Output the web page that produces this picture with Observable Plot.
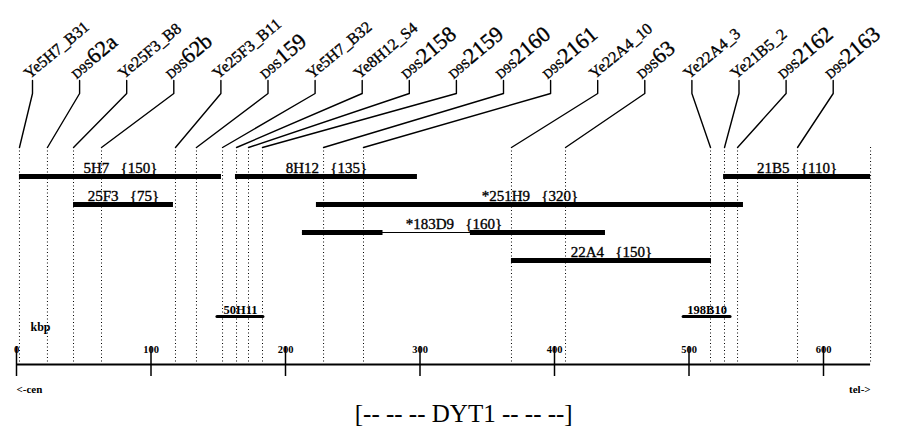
<!DOCTYPE html>
<html><head><meta charset="utf-8">
<script src="https://cdn.jsdelivr.net/npm/d3@7"></script>
<script src="https://cdn.jsdelivr.net/npm/@observablehq/plot@0.6"></script>
<style>body{margin:0;background:#fff} svg{display:block}</style>
</head><body><div id="chart"></div>
<script>
// ---------- data (kbp) ----------
const markerNames = ["Ye5H7_B31","D9S62a","Ye25F3_B8","D9S62b","Ye25F3_B11","D9S159","Ye5H7_B32","Ye8H12_S4","D9S2158","D9S2159","D9S2160","D9S2161","Ye22A4_10","D9S63","Ye22A4_3","Ye21B5_2","D9S2162","D9S2163"];
const markerPos = [2.2, 23.0, 42.4, 63.2, 118.2, 133.8, 153.2, 163.6, 172.5, 182.9, 228.3, 258.0, 368.0, 408.2, 516.0, 526.4, 536.1, 580.7];
const mapEnd = 635;

const cloneNames = ["5H7","8H12","21B5","25F3","*251H9","*183D9","22A4"];
const cloneSizes = [150, 135, 110, 75, 320, 160, 150];
const cloneStart = [2.2, 162.8, 525.7, 42.4, 223.0, 212.6, 368.0];
const cloneEnd   = [152.4, 298.1, 635.0, 116.7, 540.5, 437.9, 516.7];
const cloneTrack = [0, 0, 0, 1, 1, 2, 3];
// thin (non-overlapping) stretch inside *183D9
const gapCloneName = "*183D9";
const gapStart = 272.5, gapEnd = 337.5;

const smallNames = ["50H11","198B10"];
const smallStart = [149.4, 496.0];
const smallEnd   = [183.6, 530.9];
const smallTrack = [5, 5];

const tickValues = [0, 100, 200, 300, 400, 500, 600];
const dyt1Region = [250, 415];

// ---------- layout ----------
const W = 901, H = 426;
const trackY = t => 176 + 28 * t;
const labelBaseY = 80, bendY = 93, dotTopY = 147, axisY = 364;
const xs = d3.scaleLinear().domain([0, 600]).range([16, 823]);
const slotX = i => xs.invert(32 + 47.1 * i);

const markers = markerNames.map((n, i) => ({name: n, pos: markerPos[i], slot: slotX(i)}));
const leaders = markers.flatMap(m => [
  {name: m.name, x: m.slot, y: labelBaseY},
  {name: m.name, x: m.slot, y: bendY},
  {name: m.name, x: m.pos, y: dotTopY}
]);
const dotted = markerPos.concat([mapEnd]);

const clones = cloneNames.map((n, i) => ({name: n, size: cloneSizes[i], x1: cloneStart[i], x2: cloneEnd[i], y: trackY(cloneTrack[i])}));
const thick = clones.flatMap(c => c.name === gapCloneName
  ? [{...c, x2: gapStart}, {...c, x1: gapEnd}]
  : [c]);
const thin = clones.filter(c => c.name === gapCloneName);
const smalls = smallNames.map((n, i) => ({name: n, x1: smallStart[i], x2: smallEnd[i], y: trackY(smallTrack[i])}));

const serif = "Liberation Serif, Times New Roman, serif";
const ink = {fill: "#000", stroke: "#000", strokeWidth: 0.35};

const chart = Plot.plot({
  width: W, height: H,
  x: {domain: [0, 600], range: [16, 823], axis: null},
  y: {domain: [0, H], range: [0, H], axis: null},
  style: {background: "#fff", fontFamily: serif, color: "#000"},
  marks: [
    Plot.ruleX(dotted, {x: d => d, y1: dotTopY, y2: axisY, stroke: "#000", strokeWidth: 1, strokeDasharray: "1,2.5"}),
    Plot.line(leaders, {x: "x", y: "y", z: "name", stroke: "#000", strokeWidth: 1.4, curve: "linear"}),
    Plot.text(markers, {x: "slot", y: labelBaseY, text: "name", textAnchor: "start", lineAnchor: "bottom", rotate: -40, dx: -3, dy: -1, fontSize: 16, ...ink}),
    Plot.ruleY(thin, {x1: "x1", x2: "x2", y: "y", stroke: "#000", strokeWidth: 1.2}),
    Plot.ruleY(thick, {x1: "x1", x2: "x2", y: "y", stroke: "#000", strokeWidth: 5}),
    Plot.text(clones, {x: d => (d.x1 + d.x2) / 2, y: "y", text: d => d.name + "\u00a0\u00a0\u00a0{" + d.size + "}", lineAnchor: "bottom", dy: -4, fontSize: 15, ...ink}),
    Plot.ruleY(smalls, {x1: "x1", x2: "x2", y: "y", stroke: "#000", strokeWidth: 3, strokeLinecap: "round"}),
    Plot.text(smalls, {x: d => (d.x1 + d.x2) / 2, y: "y", text: "name", lineAnchor: "bottom", dy: -3, fontSize: 12.5, fontWeight: "bold", fill: "#000"}),
    Plot.ruleY([axisY], {x1: 0, x2: mapEnd, stroke: "#000", strokeWidth: 2}),
    Plot.ruleX(tickValues, {x: d => d, y1: axisY - 18, y2: axisY + 12, stroke: "#000", strokeWidth: 1.5}),
    Plot.text(tickValues, {x: d => d, y: axisY - 12, text: d => String(d), lineAnchor: "bottom", fontSize: 10.5, fontWeight: "bold", fill: "#000"}),
    Plot.text(["kbp"], {x: 0, y: axisY - 34, text: d => d, textAnchor: "start", dx: 14, lineAnchor: "bottom", fontSize: 12, fontWeight: "bold", fill: "#000"}),
    Plot.text(["<-cen"], {x: 0, y: axisY + 28, text: d => d, textAnchor: "start", lineAnchor: "bottom", fontSize: 11, fontWeight: "bold", fill: "#000"}),
    Plot.text(["tel->"], {x: mapEnd, y: axisY + 28, text: d => d, textAnchor: "end", lineAnchor: "bottom", fontSize: 11, fontWeight: "bold", fill: "#000"}),
    Plot.text(["[-- -- -- DYT1 -- -- --]"], {x: (dyt1Region[0] + dyt1Region[1]) / 2, y: H - 5, text: d => d, lineAnchor: "bottom", fontSize: 25, fill: "#000"})
  ]
});

// D9S labels: small prefix, large number
d3.select(chart).selectAll("text").each(function() {
  const tr = this.getAttribute("transform") || "";
  const t = this.textContent;
  if (tr.includes("rotate") && t.startsWith("D9S")) {
    const sel = d3.select(this);
    sel.text(null);
    sel.append("tspan").attr("font-size", 13).text("D9S");
    sel.append("tspan").attr("font-size", 22).text(t.slice(3));
  }
});
document.getElementById("chart").appendChild(chart);
</script>
</body></html>
